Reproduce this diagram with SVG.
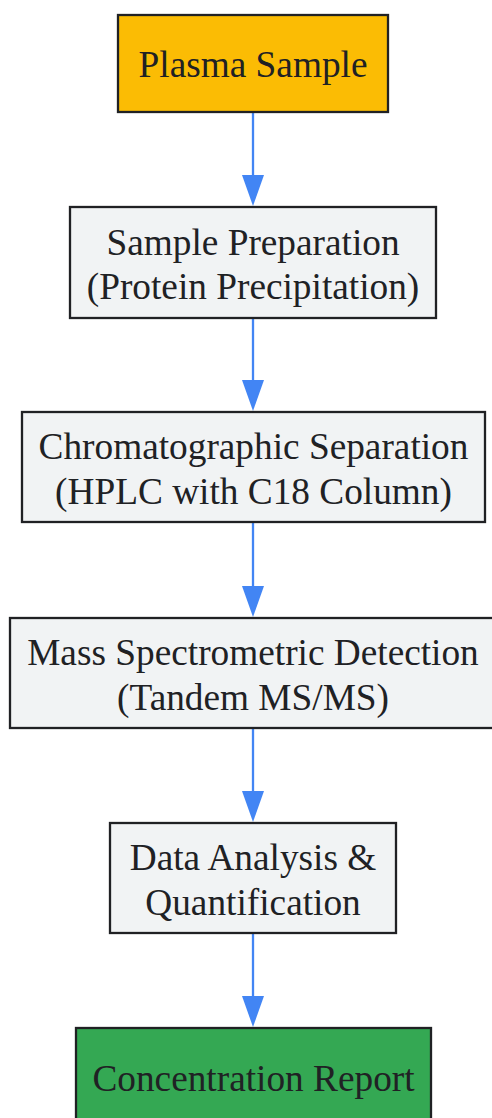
<svg xmlns="http://www.w3.org/2000/svg" width="492" height="1118" viewBox="0 0 492 1118">
<style>
.box{stroke:#202124;stroke-width:2.3}
.gray{fill:#F1F3F4}
.lbl{font-family:"Liberation Serif","Times New Roman",serif;font-size:37.3px;fill:#202124;text-anchor:middle}
.edge{stroke:#4285F4;stroke-width:2.3;fill:none}
.head{fill:#4285F4}
</style>
<rect width="492" height="1118" fill="#FFFFFF"/>
<g id="connectors">
<line class="edge" x1="253" y1="112" x2="253" y2="180"/>
<polygon class="head" points="242,175 264,175 253,206"/>
<line class="edge" x1="253" y1="318" x2="253" y2="385"/>
<polygon class="head" points="242,380 264,380 253,411"/>
<line class="edge" x1="253" y1="522" x2="253" y2="591"/>
<polygon class="head" points="242,586 264,586 253,617"/>
<line class="edge" x1="253" y1="728" x2="253" y2="796"/>
<polygon class="head" points="242,791 264,791 253,822"/>
<line class="edge" x1="253" y1="933" x2="253" y2="1001"/>
<polygon class="head" points="242,996 264,996 253,1027"/>
</g>
<g id="plasma">
<rect class="box" x="118" y="15" width="270" height="97" fill="#FBBC04"/>
<text class="lbl" x="253" y="77">Plasma Sample</text>
</g>
<g id="prep">
<rect class="box gray" x="70" y="207" width="366" height="111"/>
<text class="lbl" x="253" y="255">Sample Preparation</text>
<text class="lbl" x="253" y="299">(Protein Precipitation)</text>
</g>
<g id="chrom">
<rect class="box gray" x="22" y="412" width="463" height="110"/>
<text class="lbl" x="253.5" y="459">Chromatographic Separation</text>
<text class="lbl" x="253.5" y="504">(HPLC with C18 Column)</text>
</g>
<g id="ms">
<rect class="box gray" x="10" y="618" width="486" height="110"/>
<text class="lbl" x="253" y="665">Mass Spectrometric Detection</text>
<text class="lbl" x="253" y="710">(Tandem MS/MS)</text>
</g>
<g id="data">
<rect class="box gray" x="110" y="823" width="286" height="110"/>
<text class="lbl" x="253" y="870">Data Analysis &amp;</text>
<text class="lbl" x="253" y="915">Quantification</text>
</g>
<g id="report">
<rect class="box" x="76" y="1028" width="355" height="97" fill="#34A853"/>
<text class="lbl" x="253.5" y="1091">Concentration Report</text>
</g>
</svg>
